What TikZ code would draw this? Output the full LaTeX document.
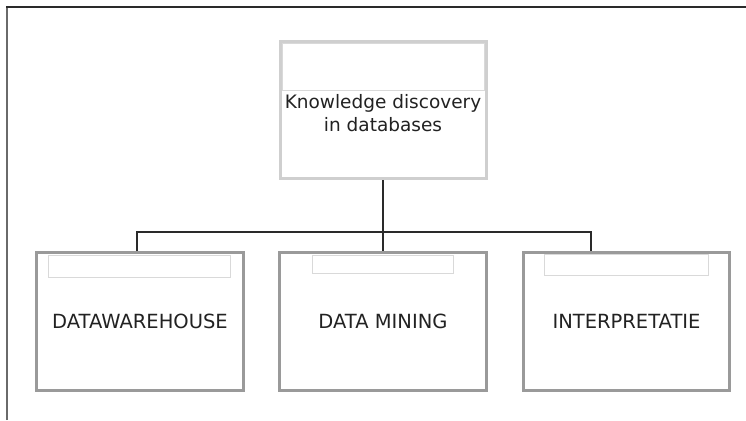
\documentclass[tikz,border=0pt]{standalone}
\usepackage{fontspec}
\setmainfont{DejaVu Sans}
\usepackage{tikz}
\usetikzlibrary{positioning}
\definecolor{textgray}{HTML}{222222}
\definecolor{lightframe}{HTML}{CFCFCF}
\definecolor{darkframe}{HTML}{9A9A9A}
\definecolor{headline}{HTML}{D9D9D9}
\definecolor{linkgray}{HTML}{2A2A2A}
\definecolor{sidegray}{HTML}{6A6A6A}
\tikzset{
  topbox/.style={ draw=lightframe, line width=3pt, fill=white, inner sep=0pt,
    minimum width=206pt, minimum height=137pt, align=center, text=textgray,
    font=\fontsize{18.5}{23}\selectfont }
}
\tikzset{
  subbox/.style={ draw=darkframe, line width=3pt, fill=white, inner sep=0pt,
    minimum width=207pt, minimum height=138pt, text=textgray,
    font=\fontsize{19.5}{23}\selectfont }
}
\tikzset{
  headbox/.style={ draw=headline, line width=1pt, inner sep=0pt }
}
\tikzset{
  link/.style={ draw=linkgray, line width=2pt }
}

\begin{document}
\begin{tikzpicture}[x=1pt, y=-1pt]
      \useasboundingbox (0, 0) rectangle (746, 420);
      \draw[sidegray, line width=2pt] (7, 420) -- (7, 7);
      \draw[linkgray, line width=2pt] (6, 7) -- (746, 7);

      \node[topbox] (kdd) at (383, 110) {\\[-2pt]Knowledge discovery\\in databases};
      \node[headbox, minimum width=202pt, minimum height=46pt] (kddhead) at (383, 67) {};

      \node[subbox] (dw) at (140, 321.5) {DATAWAREHOUSE};
      \node[headbox, minimum width=182pt, minimum height=22pt] (dwhead) at (139, 266) {};

      \node[subbox] (dm) at (383, 321.5) {DATA MINING};
      \node[headbox, minimum width=141pt, minimum height=18pt] (dmhead) at (382.5, 264) {};

      \node[subbox, minimum width=206pt] (ip) at (626.5, 321.5) {INTERPRETATIE};
      \node[headbox, minimum width=164pt, minimum height=21pt] (iphead) at (626, 264.5) {};

      \coordinate (split) at (383, 232);
      \draw[link] (kdd.south) -- (split) -- (dm.north);
      \draw[link] ([xshift=-3pt]dw.north) |- (split) -| ([xshift=-35.5pt]ip.north);
\end{tikzpicture}
\end{document}
